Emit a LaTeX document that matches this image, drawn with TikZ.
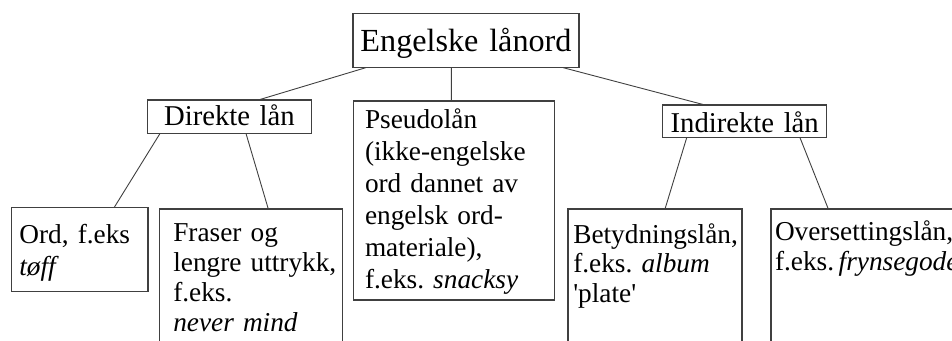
\documentclass[tikz,border=0pt]{standalone}
\usepackage{fontspec}
\setmainfont{Liberation Serif}
\usepackage{tikz}
\frenchspacing
\hyphenpenalty=10000 % lines are broken by hand
\tikzset{
    box/.style={draw=black!75, line width=1.1pt, anchor=north west, inner ysep=0pt, outer sep=0pt, align=left}, % every framed box
    head/.style={box, align=center, inner xsep=0pt, font=\fontsize{28.7}{32}\selectfont}, % the two middle headings
    leaf/.style={box, font=\fontsize{27.3}{30}\selectfont}, % the boxes with examples
    link/.style={draw=black!75, line width=0.9pt}, % the plain connecting lines
}

\begin{document}
\begin{tikzpicture}[x=1pt, y=-1pt]
    \useasboundingbox (0,0) rectangle (952,340);
    \node[box, align=center, inner xsep=0pt, text width=226pt, text height=38.4pt, text depth=16pt, font=\fontsize{32.2}{36}\selectfont] (lanord) at (353,13.3) {Engelske lånord};
    \node[head, text width=163.8pt, text height=25.7pt, text depth=7.8pt] (direkte) at (147.5,100) {Direkte lån};
    \node[leaf, inner xsep=11.7pt, text width=177.6pt, text height=27.3pt, text depth=171.7pt, font=\fontsize{27.3}{32}\selectfont] (pseudo) at (353.3,101) {Pseudolån\\(ikke-engelske\\ord~dannet~av\\engelsk~ord-\\materiale),\\f.eks.~\textit{snacksy}};
    \node[head, text width=164pt, text height=27.3pt, text depth=5.4pt] (indirekte) at (662.7,105) {Indirekte lån};
    \node[leaf, inner xsep=7.7pt, text width=120.9pt, text height=36pt, text depth=48.4pt, font=\fontsize{27.3}{31.7}\selectfont] (ord) at (11.7,207.3) {Ord,~f.eks\\\textit{tøff}};
    \node[leaf, inner xsep=14pt, text width=155pt, text height=32.7pt, text depth=150pt] (fraser) at (159.3,209) {Fraser~og\\\mbox{lengre uttrykk,}\\f.eks.\\\textit{never~mind}};
    \node[leaf, inner xsep=5.3pt, text width=163.4pt, text height=34.3pt, text depth=150pt, font=\fontsize{27.3}{29.5}\selectfont] (betydning) at (568,209) {Betydningslån,\\f.eks.~\textit{album}\\\textquotesingle plate\textquotesingle};
    \node[leaf, inner xsep=4pt, text width=181pt, text height=31pt, text depth=150pt] (oversetting) at (771,209) {Oversettingslån,\\\mbox{f.eks.\,\textit{frynsegode}}};
    \draw[link]
    ([xshift=12.7pt]lanord.south west) -- ([xshift=110.8pt]direkte.north west)
    ([xshift=98.3pt]lanord.south west) -- ([xshift=98pt]pseudo.north west)
    ([xshift=210.3pt]lanord.south west) -- ([xshift=42.3pt]indirekte.north west)
    ([xshift=12.5pt]direkte.south west) -- ([xshift=102.6pt]ord.north west)
    ([xshift=98.5pt]direkte.south west) -- ([xshift=109pt]fraser.north west)
    ([xshift=24pt]indirekte.south west) -- ([xshift=97pt]betydning.north west)
    ([xshift=137.3pt]indirekte.south west) -- ([xshift=57.3pt]oversetting.north west)
    ;
\end{tikzpicture}
\end{document}
